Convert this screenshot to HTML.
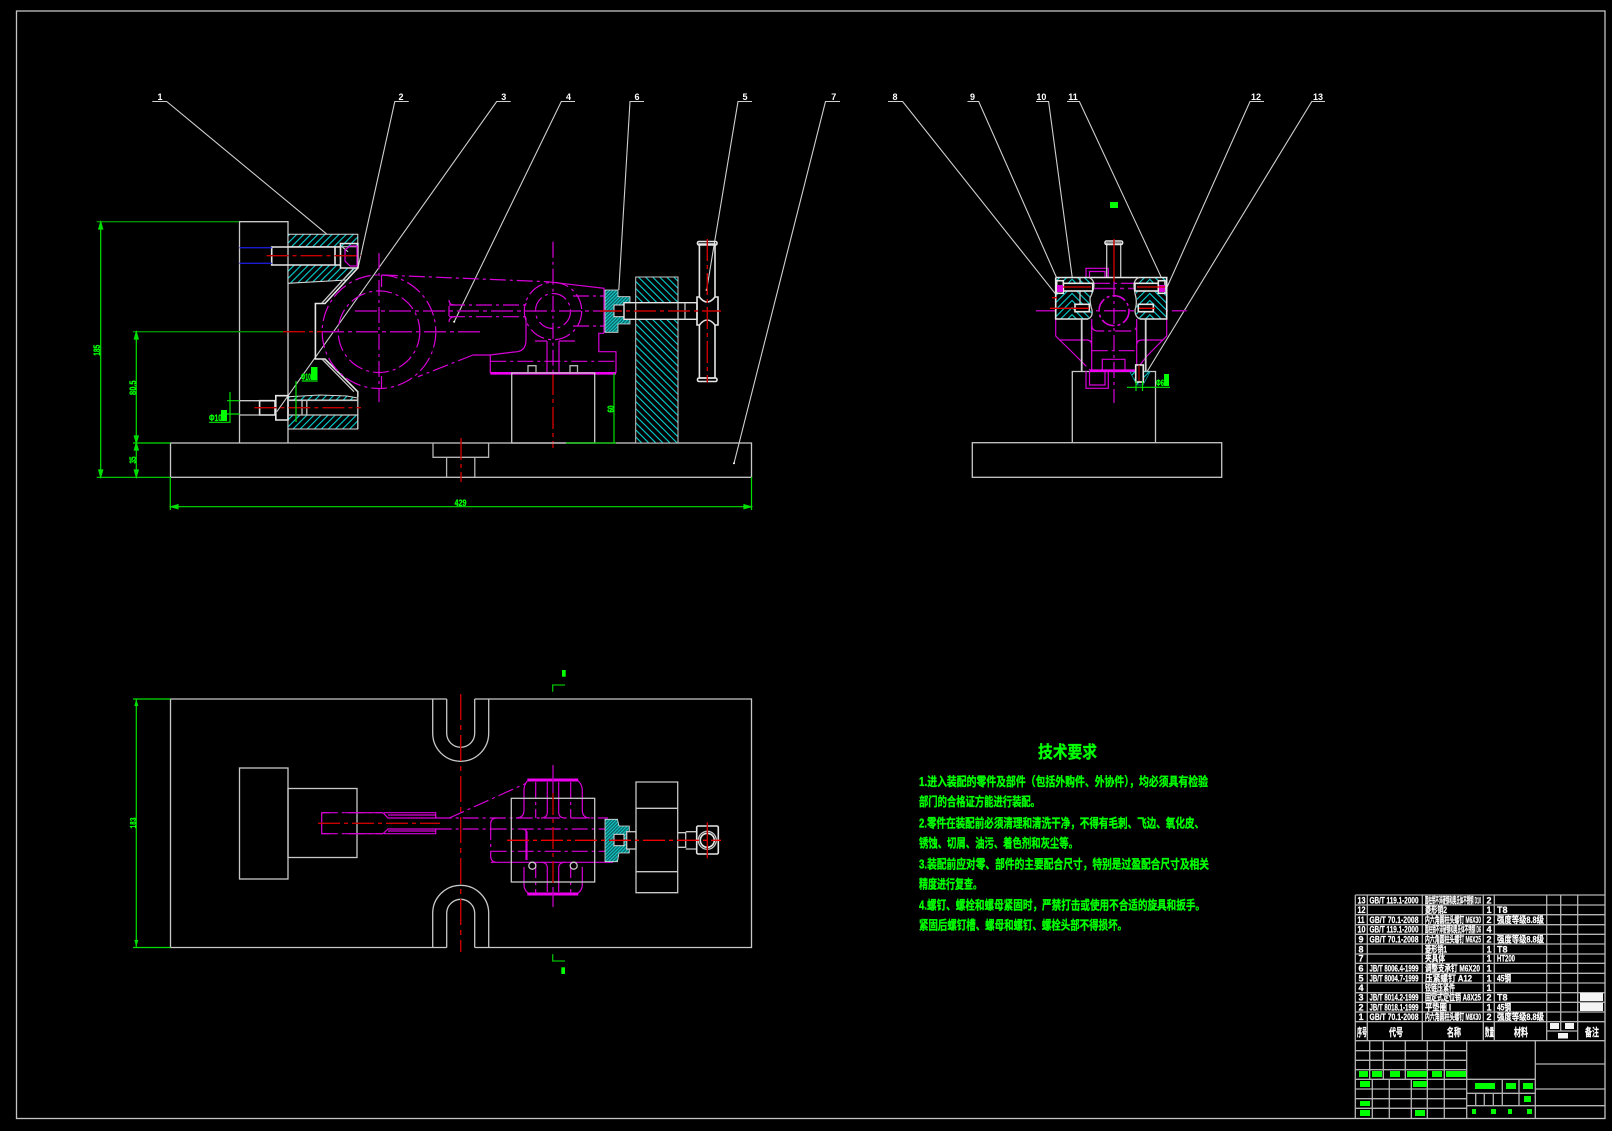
<!DOCTYPE html>
<html><head><meta charset="utf-8"><title>夹具装配图</title>
<style>
html,body{margin:0;padding:0;background:#000;width:1612px;height:1131px;overflow:hidden}
svg{display:block}
.w{stroke:#c8c8c8;stroke-width:1.3;fill:none}
.b{stroke:#e6e6e6;stroke-width:1.6;fill:none}
.m{stroke:#d800d8;stroke-width:1.2;fill:none}
.mt{stroke:#f000f0;stroke-width:2.6;fill:none}
.md{stroke:#d800d8;stroke-width:1.2;fill:none;stroke-dasharray:16 4 3 4}
.mc{stroke:#b000b0;stroke-width:1.5;fill:none;stroke-dasharray:22 4 4 4}
.r{stroke:#c80000;stroke-width:1.4;fill:none;stroke-dasharray:22 4 4 4}
.g{stroke:#00e000;stroke-width:1.2;fill:none}
.gd{stroke:#009000;stroke-width:1.3;fill:none}
.l{stroke:#d0d0d0;stroke-width:1.1;fill:none}
.t{stroke:#b4b4b4;stroke-width:1.3;fill:none}
text{font-family:"Liberation Sans","Noto Sans CJK SC",sans-serif}
.gt{fill:#00ff00;font-weight:bold;font-family:"Liberation Mono","Noto Sans CJK SC",monospace;stroke:#00ff00;stroke-width:.3}
.tt{fill:#00ff00;font-family:"Noto Sans CJK SC",sans-serif;font-weight:bold;stroke:#00ff00;stroke-width:.35}
.wt{fill:#fff;font-weight:bold;font-size:9px;font-family:"Liberation Sans","Noto Sans CJK SC",sans-serif;stroke:#fff;stroke-width:.25}
.lb{fill:#fff;font-weight:bold;font-size:9px;text-anchor:middle;font-family:"Liberation Mono",monospace}
</style></head><body>
<svg xmlns="http://www.w3.org/2000/svg" width="1612" height="1131" viewBox="0 0 1612 1131">
<defs>
<pattern id="h1" width="5" height="5" patternUnits="userSpaceOnUse" patternTransform="rotate(45)"><rect width="5" height="5" fill="#000"/><line x1="0" y1="0" x2="0" y2="5" stroke="#00d4d4" stroke-width="2.2"/></pattern>
<pattern id="h2" width="5" height="5" patternUnits="userSpaceOnUse" patternTransform="rotate(-45)"><rect width="5" height="5" fill="#000"/><line x1="0" y1="0" x2="0" y2="5" stroke="#00d4d4" stroke-width="2.2"/></pattern>
<pattern id="h3" width="2.4" height="2.4" patternUnits="userSpaceOnUse" patternTransform="rotate(45)"><rect width="2.4" height="2.4" fill="#0a6a6a"/><line x1="0" y1="0" x2="0" y2="2.4" stroke="#18e8e8" stroke-width="1.5"/></pattern>
</defs>
<rect width="1612" height="1131" fill="#000"/>
<rect x="16.5" y="11" width="1588.5" height="1107.5" fill="none" stroke="#c4c4c4" stroke-width="1.3"/>

<!-- leaders -->
<g class="l">
<path d="M152.3 101.5H166.7L348 251.7"/>
<path d="M408.7 101.5H394.8L358 268"/>
<path d="M510.7 101.5H496.7L276.8 411.7"/>
<path d="M575 101.5H561.3L454.2 321.7"/>
<path d="M644 101.5H630L618.8 290"/>
<path d="M752 101.5H738L706.6 290"/>
<path d="M840 101.5H825.5L734 463.3"/>
<path d="M888 101.5H902.6L1061.7 301.7"/>
<path d="M967.5 101.5H978.7L1056.7 278"/>
<path d="M1036 101.5H1048.6L1072.3 278"/>
<path d="M1067 101.5H1079.4L1163.3 281.7"/>
<path d="M1264 101.5H1250L1166.7 288"/>
<path d="M1325 101.5H1311.8L1145 375"/>
</g>
<g class="lb">
<text x="160" y="100">1</text><text x="401" y="100">2</text><text x="503.7" y="100">3</text><text x="568.5" y="100">4</text><text x="637" y="100">6</text><text x="745" y="100">5</text><text x="833.7" y="100">7</text><text x="895" y="100">8</text><text x="972.5" y="100">9</text><text x="1041.4" y="100">10</text><text x="1073" y="100">11</text><text x="1256" y="100">12</text><text x="1318" y="100">13</text>
</g>
<circle cx="734" cy="463.3" r="1" fill="#fff"/><circle cx="454.2" cy="321.7" r="1" fill="#fff"/><circle cx="706.6" cy="290" r="1" fill="#fff"/>

<!-- FRONT VIEW -->
<rect x="170.5" y="443" width="581" height="34.3" class="w"/>
<path class="w" d="M239.5 443V221.7H288V443"/>
<path class="t" d="M433 443V457.3H488.6V443M446.6 457.3V477M474.8 457.3V477"/>
<line class="r" x1="461" y1="438" x2="461" y2="482"/>

<!-- upper hatch block -->
<path fill="url(#h1)" stroke="#d8d8d8" d="M288 234.3H357.8V246.7H288ZM288 265H340.5L340.5 268H357.8L347 280L288 283.3Z"/>
<path class="b" d="M271.7 247H340.5V265H271.7ZM340.5 243.5H357.8V268H340.5ZM335 247V265"/>
<path d="M239.5 247.7H271.7M239.5 263.3H271.7" stroke="#1a1ad0" stroke-width="1.3" fill="none"/>
<path class="m" d="M345 250L350 246H357V266H350L345 261ZM345 255.7H357"/>
<line class="r" x1="266.5" y1="255.7" x2="361" y2="255.7"/>

<!-- body profile -->
<path class="b" d="M357.8 268L325 303.5H315.4V359H325L357.8 391.7V397"/>
<path class="w" d="M354 268L322 303M322 359L354 391.7"/>

<!-- lower hatch block -->
<path fill="url(#h1)" stroke="#d8d8d8" d="M288 396.7L320 395L347 396L357.8 398V400H288ZM288 415H357.8V429H288Z"/>
<path class="b" d="M259.6 400.7H275V415H259.6ZM275.8 395.7H288V420H275.8Z"/>
<path class="w" d="M239.6 400.7H259.6M239.6 415H259.6M288 400.5H357.8M288 415H357.8M306.8 400.5V415M302 400.5V415M357.8 391V429"/>
<line class="r" x1="254.4" y1="407.7" x2="361" y2="407.7"/>

<!-- magenta arm -->
<circle cx="379" cy="331.7" r="56.8" class="md"/>
<circle cx="379" cy="331.7" r="40.8" class="md"/>
<line class="md" x1="379" y1="253" x2="379" y2="402"/>
<path class="m" d="M381.5 275V287M381.5 376V388"/>
<line class="r" x1="283" y1="331.7" x2="322" y2="331.7"/>
<line class="mc" x1="322" y1="331.7" x2="481.7" y2="331.7"/>
<path class="md" d="M381.9 275L547 281.7"/>
<path class="m" d="M547 281.7L604 288.3V333M604 333.3H598.8V351.7H616V373"/>
<circle cx="553" cy="311" r="28.7" class="md"/>
<circle cx="553" cy="311" r="17.5" class="md"/>
<line class="md" x1="553" y1="241.7" x2="553" y2="373"/>
<line class="r" x1="553" y1="373" x2="553" y2="448"/>
<line class="mc" x1="355" y1="311" x2="604" y2="311"/>
<path class="md" d="M449 305H525M449 316.7H525"/>
<path class="m" d="M449 300Q449 305 455 305M455 316.7Q449 317 449 322M449 306V316M525 316.7Q526 316.7 526 320V340Q526 352 514 352L490 355H473M525 305Q526 305 526 303"/>
<path class="md" d="M473 355L418 376.7"/>
<path class="m" d="M490.3 355V373M547 341V373M559 341V373M535 341H547M559 341H575"/>
<path class="md" d="M490.3 361.3H616"/>
<path class="md" d="M573 296H604M573 326H604"/>
<path class="mt" d="M490.3 373.3H616"/>

<!-- fixture block -->
<rect x="511.7" y="373" width="83" height="70" class="w"/>
<path class="t" d="M528 373V365.7H536V373M570 373V365.7H577.5V373"/>
<path d="M566 443H616" stroke="#00d000" stroke-width="1.3" fill="none"/>

<!-- nut -->
<path fill="url(#h3)" stroke="#e0e0e0" stroke-width=".8" d="M605 290H618V296.7H630V324H618V332.3H605Z"/>
<rect x="614" y="305" width="10.7" height="11.7" fill="#000" stroke="#e0e0e0"/>
<!-- plate -->
<rect x="635.7" y="277" width="42.3" height="166" fill="url(#h2)" stroke="#c8c8c8"/>
<rect x="624" y="302.7" width="73" height="16.6" fill="#000" stroke="#e6e6e6" stroke-width="1.4"/>
<path class="w" d="M635.7 302.7V319.3M678 302.7V319.3M685 302.7V319.3"/>
<!-- handle -->
<path class="b" d="M699.4 297V244H715V297M699.4 325V378H715V325"/>
<rect x="697.5" y="241.5" width="19.5" height="3.5" rx="1.5" class="b"/>
<rect x="697.5" y="378" width="19.5" height="3.5" rx="1.5" class="b"/>
<path fill="#000" class="b" d="M697 297H699.4Q707 307 715 297H718V325H715Q707 315 699.4 325H697Z"/>
<line class="r" x1="707.3" y1="239" x2="707.3" y2="382.7"/>
<line class="r" x1="600" y1="311" x2="721" y2="311"/>

<!-- dimensions front -->
<g class="g">
<path class="gd" d="M96.7 221.7H239M133 331.7H283"/>
<path d="M100.7 221.7V477M136.3 331.7V477M96.7 477.3H170.5M133 443H170.5M170.3 477V510M751.5 477V510M170.3 506.7H751.5M614 373V443"/>
<path d="M98.7 229L100.7 222L102.7 229ZM98.7 470L100.7 477L102.7 470ZM134.3 339L136.3 332L138.3 339ZM134.3 436L136.3 443L138.3 436ZM134.3 450L136.3 443L138.3 450ZM134.3 470L136.3 477L138.3 470ZM178 504.7L171 506.7L178 508.7ZM744 504.7L751 506.7L744 508.7Z" fill="#00e000"/>
<path d="M209 422.3H230.7M230 392V422M227 400.7H239.5M227 414H239.5M301.7 381H317.7M296 381V422"/>
</g>
<g class="gt" font-size="9">
<text transform="translate(100,350.3) rotate(-90)" text-anchor="middle" textLength="11" lengthAdjust="spacingAndGlyphs">185</text>
<text transform="translate(136,387.7) rotate(-90)" text-anchor="middle" textLength="14.5" lengthAdjust="spacingAndGlyphs">80.5</text>
<text transform="translate(136,460) rotate(-90)" text-anchor="middle" textLength="7" lengthAdjust="spacingAndGlyphs">35</text>
<text transform="translate(614,409) rotate(-90)" text-anchor="middle" textLength="7" lengthAdjust="spacingAndGlyphs">60</text>
<text x="460.5" y="506" text-anchor="middle" textLength="12" lengthAdjust="spacingAndGlyphs">429</text>
<text x="209" y="421" textLength="13" lengthAdjust="spacingAndGlyphs">Φ10</text>
<text x="301" y="380" textLength="10" lengthAdjust="spacingAndGlyphs">Φ10</text>
</g>
<g fill="#00ff00"><rect x="221" y="410" width="6" height="11"/><rect x="311" y="367" width="6.5" height="13"/></g>

<!-- RIGHT VIEW -->
<rect x="972.3" y="442.7" width="249.4" height="34.6" class="w"/>
<path class="w" d="M1072.3 442.7V371.5H1155.5V442.7"/>
<path class="m" d="M1086 277.3V268.3H1108.3V277.3M1089.5 277V271.5H1105V277"/>
<path class="m" d="M1086 370.7V388.3H1108.3V370.7M1089.5 370.7V385H1105V370.7"/>
<path class="m" d="M1055.7 319V336L1075 355M1166.7 319V336L1147 356"/>
<path class="md" d="M1075 355L1090 370M1147 356L1136 370"/>
<path class="m" d="M1091.7 319V370M1136.7 319V370M1060 340H1086.7Q1091.7 340 1091.7 345M1136.7 345Q1136.7 340 1142 340H1163"/>
<path class="md" d="M1091.7 325Q1092 331 1098 331H1130Q1136.7 331 1136.7 325M1091.7 350.7H1136.7M1094 283.3H1135"/>
<path class="m" d="M1102.3 370.7V359.3H1125V370.7"/>
<path class="mt" d="M1090 370.7H1136"/>
<path class="mc" d="M1094 288.5H1135"/>
<circle cx="1114" cy="310.7" r="15" stroke="#d800d8" stroke-width="1.6" fill="none" stroke-dasharray="14 3 3 3"/>
<line class="mc" x1="1036" y1="310.7" x2="1186.7" y2="310.7"/>
<line class="md" x1="1114" y1="281" x2="1114" y2="403"/>
<!-- hatch -->
<path fill="url(#h1)" d="M1056 278H1072V319H1056Z"/>
<path fill="url(#h2)" d="M1072 278H1090L1094 283L1093 292L1090 300L1092 312L1088 319H1072Z"/>
<path fill="url(#h2)" d="M1150 278H1166.5V319H1150Z"/>
<path fill="url(#h1)" d="M1150 278H1138L1134 284L1136 292L1137 300L1135 312L1140 319H1150Z"/>
<path class="b" d="M1055.7 277.5H1166.7V319H1140M1055.7 277.5V319H1088"/>
<path class="w" d="M1088 319Q1093 317 1092 310Q1090 304 1090 298Q1094 290 1094 284Q1093 279 1089 277.5M1140 319Q1135 317 1135 310Q1137 304 1136 298Q1134 290 1134 284Q1135 279 1139 277.5"/>
<path class="w" stroke-width="1.2" d="M1106.7 277V243H1120.7V277"/>
<rect x="1105" y="241" width="17.6" height="3.5" class="b" rx="1.5"/>
<line class="r" x1="1114" y1="239" x2="1114" y2="281.7" style="stroke-dasharray:none"/>
<path class="w" d="M1080 277.5V310"/>
<path stroke="#d0d0d0" stroke-width="1.8" fill="none" d="M1081.7 319V371M1145.7 319V371"/>
<g class="b"><rect x="1063.3" y="283.3" width="29.4" height="7.7" style="fill:#000"/><rect x="1056.7" y="280.7" width="6.6" height="12.6" style="fill:#000"/><rect x="1075" y="304.3" width="14.3" height="7.4" style="fill:#000"/><rect x="1135" y="283.3" width="23.3" height="7.7" style="fill:#000"/><rect x="1158.3" y="280.7" width="6.7" height="12.6" style="fill:#000"/><rect x="1138.3" y="304.3" width="15" height="7.4" style="fill:#000"/></g>
<g fill="#d800d8"><rect x="1057" y="285" width="6" height="7"/><rect x="1159" y="285" width="6" height="7"/></g>
<path d="M1063 287H1091M1137 287H1165M1050 308.3H1089M1139 308.3H1155M1052 297.7H1057" stroke="#e00000" stroke-width="1.3" fill="none"/>
<path fill="url(#h1)" stroke="#00c8c8" stroke-width=".6" d="M1130 372L1150 372L1143 385H1137Z"/>
<rect x="1135.7" y="365" width="7.6" height="17" style="fill:#000" class="b"/>
<line x1="1139" y1="365" x2="1139" y2="381" stroke="#d00000"/>
<path class="g" d="M1127 387.3H1170M1136 381V391M1142.5 381V391"/>
<g class="gt" font-size="9"><text x="1156" y="386" textLength="8" lengthAdjust="spacingAndGlyphs">Φ6</text></g>
<rect x="1164" y="374" width="5" height="12" fill="#00ff00"/>
<rect x="1110" y="202" width="8" height="6" fill="#00ff00"/>

<!-- PLAN VIEW -->
<path class="w" d="M446.7 699H170.5V947.5H446.7M474.7 699H751.5V947.5H474.7"/>
<path class="w" d="M432.7 699V733.3A28 28 0 0 0 488.7 733.3V699M446.7 699V733.3A14 14 0 0 0 474.7 733.3V699"/>
<path class="w" d="M432.7 947.5V913.3A28 28 0 0 1 488.7 913.3V947.5M446.7 947.5V913.3A14 14 0 0 1 474.7 913.3V947.5"/>
<line class="r" x1="460.7" y1="694" x2="460.7" y2="952" style="stroke-dasharray:26 5 5 5"/>
<rect x="239.5" y="768" width="48.5" height="111" class="w"/>
<rect x="288" y="788.5" width="69" height="69" class="w"/>
<path stroke="#00c000" stroke-width="1.3" fill="none" d="M552.7 691.7V685H565M552.7 954.3V961H565"/>
<rect x="562" y="670" width="3.7" height="6.7" fill="#00ff00"/><rect x="561.3" y="967.3" width="3.7" height="6.7" fill="#00ff00"/>
<!-- arm plan -->
<path class="m" stroke-width="1.4" d="M383 812.7H345M383 833.7H345M330 812.7H321.7V833.7H330"/>
<path class="md" d="M321.7 812.7H383M321.7 833.7H383"/>
<path class="m" stroke-width="1.4" d="M383 812.7L388 818H435.7V812.7H384M383 833.7L388 829H435.7V833.7H384M388 815H435.7M388 831H435.7"/>
<path class="md" d="M435.7 818H608M435.7 829H490.7M449.3 818L526 783.3"/>
<line class="r" x1="318" y1="823.3" x2="440" y2="823.3"/>
<path class="m" d="M527.3 781Q524 785 524 790V810Q524 818 516 818M582.3 790V810Q582.3 818 590 818M578.3 781Q582.3 785 582.3 790"/>
<path class="m" d="M524 867V885Q524 890 528 893M582.3 867V885Q582.3 890 578 893M490.7 862.3H613M497 818Q490.7 818 490.7 824M490.7 856Q490.7 862.3 497 862.3"/>
<path class="md" d="M490.7 824V856M490.7 829H608M490.7 851.3H608"/>
<path class="mt" d="M527.3 780H578.3M527.3 894H578.3" stroke-width="3" style="stroke-width:3"/>
<path class="md" d="M535.7 782V818M570.7 782V818M535.7 862V893M570.7 862V893"/>
<path class="m" d="M547.3 782V812Q547.3 818 541 818M558.7 782V812Q558.7 818 565 818M547.3 892V868Q547.3 862.3 541 862.3M558.7 892V868Q558.7 862.3 565 862.3M522 829Q525 829 527 832V860M526 829V860"/>
<rect x="511.3" y="798.3" width="83.4" height="83.7" class="w"/>
<line x1="553" y1="765" x2="553" y2="793" stroke="#c000c0" stroke-width="1.3"/>
<line x1="553" y1="887" x2="553" y2="907" stroke="#c000c0" stroke-width="1.3"/>
<line class="r" x1="553" y1="793" x2="553" y2="887"/>
<circle cx="532.3" cy="865.7" r="3.5" class="w" style="fill:#000"/>
<circle cx="573.7" cy="865.7" r="3.5" class="w" style="fill:#000"/>
<path fill="url(#h3)" stroke="#e0e0e0" stroke-width=".8" d="M605 819.3H617.5L619 826H629.3V853H619L617.5 861.7H605Z"/>
<rect x="614" y="834.3" width="10" height="11.4" fill="#000" stroke="#e0e0e0"/>
<rect x="626.7" y="831.7" width="9.3" height="17.3" style="fill:#000" class="w"/>
<path class="w" d="M636 782H677.7V892.7H636ZM636 808.3H677.7M636 871.7H677.7"/>
<path class="w" d="M677.7 832.7H685.7V847.3H677.7M685.7 831.7H696.7M685.7 849H696.7"/>
<rect x="696.7" y="826" width="21.6" height="28" class="b" rx="1.5"/>
<circle cx="707.3" cy="840.3" r="9" class="w"/><circle cx="707.3" cy="840.3" r="7" class="b"/>
<line class="r" x1="707.3" y1="822.3" x2="707.3" y2="858.3" style="stroke-dasharray:none"/>
<line x1="507" y1="840.3" x2="721" y2="840.3" stroke="#f00000" stroke-width="1.3" stroke-dasharray="22 4 4 4"/>
<path class="g" d="M133 699H170.5M133 947.5H170.5"/>
<path class="g" d="M136.3 699V947.5"/>
<path d="M134.3 706L136.3 699L138.3 706ZM134.3 940L136.3 947L138.3 940Z" fill="#00e000"/>
<text class="gt" font-size="9" transform="translate(136,823) rotate(-90)" text-anchor="middle" textLength="11" lengthAdjust="spacingAndGlyphs">183</text>

<!-- TECH TEXT -->
<text class="tt" x="1038" y="758" font-size="17" textLength="59" lengthAdjust="spacingAndGlyphs">技术要求</text>
<g class="tt" font-size="12.5">
<text x="919" y="786" textLength="289" lengthAdjust="spacingAndGlyphs">1.进入装配的零件及部件（包括外购件、外协件），均必须具有检验</text>
<text x="919" y="806" textLength="121" lengthAdjust="spacingAndGlyphs">部门的合格证方能进行装配。</text>
<text x="919" y="827.5" textLength="285" lengthAdjust="spacingAndGlyphs">2.零件在装配前必须清理和清洗干净，不得有毛刺、飞边、氧化皮、</text>
<text x="919" y="847.5" textLength="159" lengthAdjust="spacingAndGlyphs">锈蚀、切屑、油污、着色剂和灰尘等。</text>
<text x="919" y="868.5" textLength="290" lengthAdjust="spacingAndGlyphs">3.装配前应对零、部件的主要配合尺寸，特别是过盈配合尺寸及相关</text>
<text x="919" y="888.5" textLength="63" lengthAdjust="spacingAndGlyphs">精度进行复查。</text>
<text x="919" y="909.5" textLength="286" lengthAdjust="spacingAndGlyphs">4.螺钉、螺栓和螺母紧固时，严禁打击或使用不合适的旋具和扳手。</text>
<text x="919" y="929.5" textLength="208" lengthAdjust="spacingAndGlyphs">紧固后螺钉槽、螺母和螺钉、螺栓头部不得损坏。</text>
</g>

<!-- TABLE -->
<g class="t">
<path d="M1355.3 895H1605M1355.3 905H1605M1355.3 914.7H1605M1355.3 924.7H1605M1355.3 934.3H1605M1355.3 944H1605M1355.3 954H1605M1355.3 963.3H1605M1355.3 973.3H1605M1355.3 983H1605M1355.3 992.7H1605M1355.3 1002.3H1605M1355.3 1012H1605M1355.3 1021.7H1605M1355.3 1040.7H1605"/>
<path d="M1355.3 895V1118.3M1367.3 895V1040.7M1422.3 895V1040.7M1483.3 895V1040.7M1494.3 895V1040.7M1546.7 895V1040.7M1560.7 895V1031M1577.7 895V1040.7M1546.7 1031H1577.7"/>
<path d="M1355.3 1050.7H1466.7M1355.3 1060.3H1466.7M1355.3 1069.7H1466.7M1355.3 1079.3H1466.7M1355.3 1089H1466.7M1355.3 1098.7H1466.7M1355.3 1108.3H1466.7"/>
<path d="M1369.7 1040.7V1079.3M1383.3 1040.7V1079.3M1405.3 1040.7V1079.3M1427.3 1040.7V1118.3M1444.3 1040.7V1118.3M1372.3 1079.3V1118.3M1389.3 1079.3V1118.3M1411.3 1079.3V1118.3"/>
<path d="M1466.7 1040.7V1118.3M1535.3 1040.7V1118.3M1466.7 1079.3H1535.3M1466.7 1093.3H1535.3M1466.7 1105.7H1535.3M1502.3 1079.3V1105.7M1519 1079.3V1105.7M1475.7 1093.3V1105.7M1484.3 1093.3V1105.7M1493.3 1093.3V1105.7"/>
<path d="M1535.3 1064H1605M1535.3 1089H1605M1535.3 1105.7H1605"/>
</g>
<g fill="#00ff00">
<rect x="1359" y="1071" width="9" height="6"/><rect x="1372" y="1071" width="10" height="6"/><rect x="1390" y="1071" width="10" height="6"/><rect x="1407" y="1071" width="20" height="6"/><rect x="1432" y="1071" width="10" height="6"/><rect x="1446" y="1071" width="20" height="6"/>
<rect x="1360" y="1081" width="10" height="6"/><rect x="1413" y="1081" width="14" height="6"/>
<rect x="1360" y="1101" width="10" height="5"/><rect x="1360" y="1110" width="10" height="6"/><rect x="1415" y="1110" width="10" height="6"/>
<rect x="1475" y="1083" width="20" height="6"/><rect x="1506" y="1083" width="10" height="6"/><rect x="1523" y="1083" width="10" height="6"/><rect x="1524" y="1096" width="7" height="6"/>
<rect x="1472" y="1109" width="4" height="5"/><rect x="1491" y="1109" width="5" height="5"/><rect x="1508" y="1109" width="4" height="5"/><rect x="1527" y="1109" width="5" height="5"/>
</g>
<g class="wt">
<text x="1357.5" y="903.5" textLength="8" lengthAdjust="spacingAndGlyphs">13</text><text x="1369.5" y="903.5" textLength="49" lengthAdjust="spacingAndGlyphs">GB/T 119.1-2000</text><text x="1425" y="903.5" textLength="56" lengthAdjust="spacingAndGlyphs">圆柱销不淬硬钢和奥氏体不锈钢 D10</text><text x="1486.5" y="903.5">2</text>
<text x="1357.5" y="913" textLength="8" lengthAdjust="spacingAndGlyphs">12</text><text x="1425" y="913" textLength="22" lengthAdjust="spacingAndGlyphs">菱形销2</text><text x="1486.5" y="913">1</text><text x="1497" y="913">T8</text>
<text x="1357.5" y="923" textLength="7" lengthAdjust="spacingAndGlyphs">11</text><text x="1369.5" y="923" textLength="49" lengthAdjust="spacingAndGlyphs">GB/T 70.1-2008</text><text x="1425" y="923" textLength="56" lengthAdjust="spacingAndGlyphs">内六角圆柱头螺钉 M6X30</text><text x="1486.5" y="923">2</text><text x="1497" y="923" textLength="47" lengthAdjust="spacingAndGlyphs">强度等级8.8级</text>
<text x="1357.5" y="932.7" textLength="8" lengthAdjust="spacingAndGlyphs">10</text><text x="1369.5" y="932.7" textLength="49" lengthAdjust="spacingAndGlyphs">GB/T 119.1-2000</text><text x="1425" y="932.7" textLength="56" lengthAdjust="spacingAndGlyphs">圆柱销不淬硬钢和奥氏体不锈钢 D6</text><text x="1486.5" y="932.7">4</text>
<text x="1358.5" y="942.5">9</text><text x="1369.5" y="942.5" textLength="49" lengthAdjust="spacingAndGlyphs">GB/T 70.1-2008</text><text x="1425" y="942.5" textLength="56" lengthAdjust="spacingAndGlyphs">内六角圆柱头螺钉 M6X25</text><text x="1486.5" y="942.5">2</text><text x="1497" y="942.5" textLength="47" lengthAdjust="spacingAndGlyphs">强度等级8.8级</text>
<text x="1358.5" y="952.3">8</text><text x="1425" y="952.3" textLength="22" lengthAdjust="spacingAndGlyphs">菱形销1</text><text x="1486.5" y="952.3">1</text><text x="1497" y="952.3">T8</text>
<text x="1358.5" y="961.7">7</text><text x="1425" y="961.7" textLength="20" lengthAdjust="spacingAndGlyphs">夹具体</text><text x="1486.5" y="961.7">1</text><text x="1497" y="961.7" textLength="18" lengthAdjust="spacingAndGlyphs">HT200</text>
<text x="1358.5" y="971.5">6</text><text x="1369.5" y="971.5" textLength="49" lengthAdjust="spacingAndGlyphs">JB/T 8006.4-1999</text><text x="1425" y="971.5" textLength="55" lengthAdjust="spacingAndGlyphs">调整支承钉 M6X20</text><text x="1486.5" y="971.5">1</text>
<text x="1358.5" y="981.3">5</text><text x="1369.5" y="981.3" textLength="49" lengthAdjust="spacingAndGlyphs">JB/T 8004.7-1999</text><text x="1425" y="981.3" textLength="47" lengthAdjust="spacingAndGlyphs">压紧螺钉 A12</text><text x="1486.5" y="981.3">1</text><text x="1497" y="981.3" textLength="14" lengthAdjust="spacingAndGlyphs">45钢</text>
<text x="1358.5" y="991">4</text><text x="1425" y="991" textLength="30" lengthAdjust="spacingAndGlyphs">铰链压紧件</text><text x="1486.5" y="991">1</text>
<text x="1358.5" y="1000.7">3</text><text x="1369.5" y="1000.7" textLength="49" lengthAdjust="spacingAndGlyphs">JB/T 8014.2-1999</text><text x="1425" y="1000.7" textLength="56" lengthAdjust="spacingAndGlyphs">固定式定位销 A8X25</text><text x="1486.5" y="1000.7">2</text><text x="1497" y="1000.7">T8</text>
<text x="1358.5" y="1010.3">2</text><text x="1369.5" y="1010.3" textLength="49" lengthAdjust="spacingAndGlyphs">JB/T 8018.1-1999</text><text x="1425" y="1010.3" textLength="26" lengthAdjust="spacingAndGlyphs">平垫圈 I</text><text x="1486.5" y="1010.3">1</text><text x="1497" y="1010.3" textLength="14" lengthAdjust="spacingAndGlyphs">45钢</text>
<text x="1358.5" y="1020">1</text><text x="1369.5" y="1020" textLength="49" lengthAdjust="spacingAndGlyphs">GB/T 70.1-2008</text><text x="1425" y="1020" textLength="56" lengthAdjust="spacingAndGlyphs">内六角圆柱头螺钉 M8X30</text><text x="1486.5" y="1020">2</text><text x="1497" y="1020" textLength="47" lengthAdjust="spacingAndGlyphs">强度等级8.8级</text>
<g font-size="11" style="font-size:11px">
<text x="1357" y="1036" textLength="10" lengthAdjust="spacingAndGlyphs">序号</text><text x="1389" y="1036" textLength="14" lengthAdjust="spacingAndGlyphs">代号</text><text x="1447" y="1036" textLength="14" lengthAdjust="spacingAndGlyphs">名称</text><text x="1485" y="1036" textLength="9" lengthAdjust="spacingAndGlyphs">数量</text><text x="1514" y="1036" textLength="14" lengthAdjust="spacingAndGlyphs">材料</text><text x="1585" y="1036" textLength="14" lengthAdjust="spacingAndGlyphs">备注</text>
</g>
</g>
<g fill="#f4f4f4"><rect x="1550" y="1023" width="9" height="6"/><rect x="1565" y="1023" width="9" height="6"/><rect x="1558" y="1033" width="10" height="5.5"/><rect x="1580" y="993" width="23" height="8"/><rect x="1580" y="1003" width="23" height="8"/></g>
</svg>
</body></html>
